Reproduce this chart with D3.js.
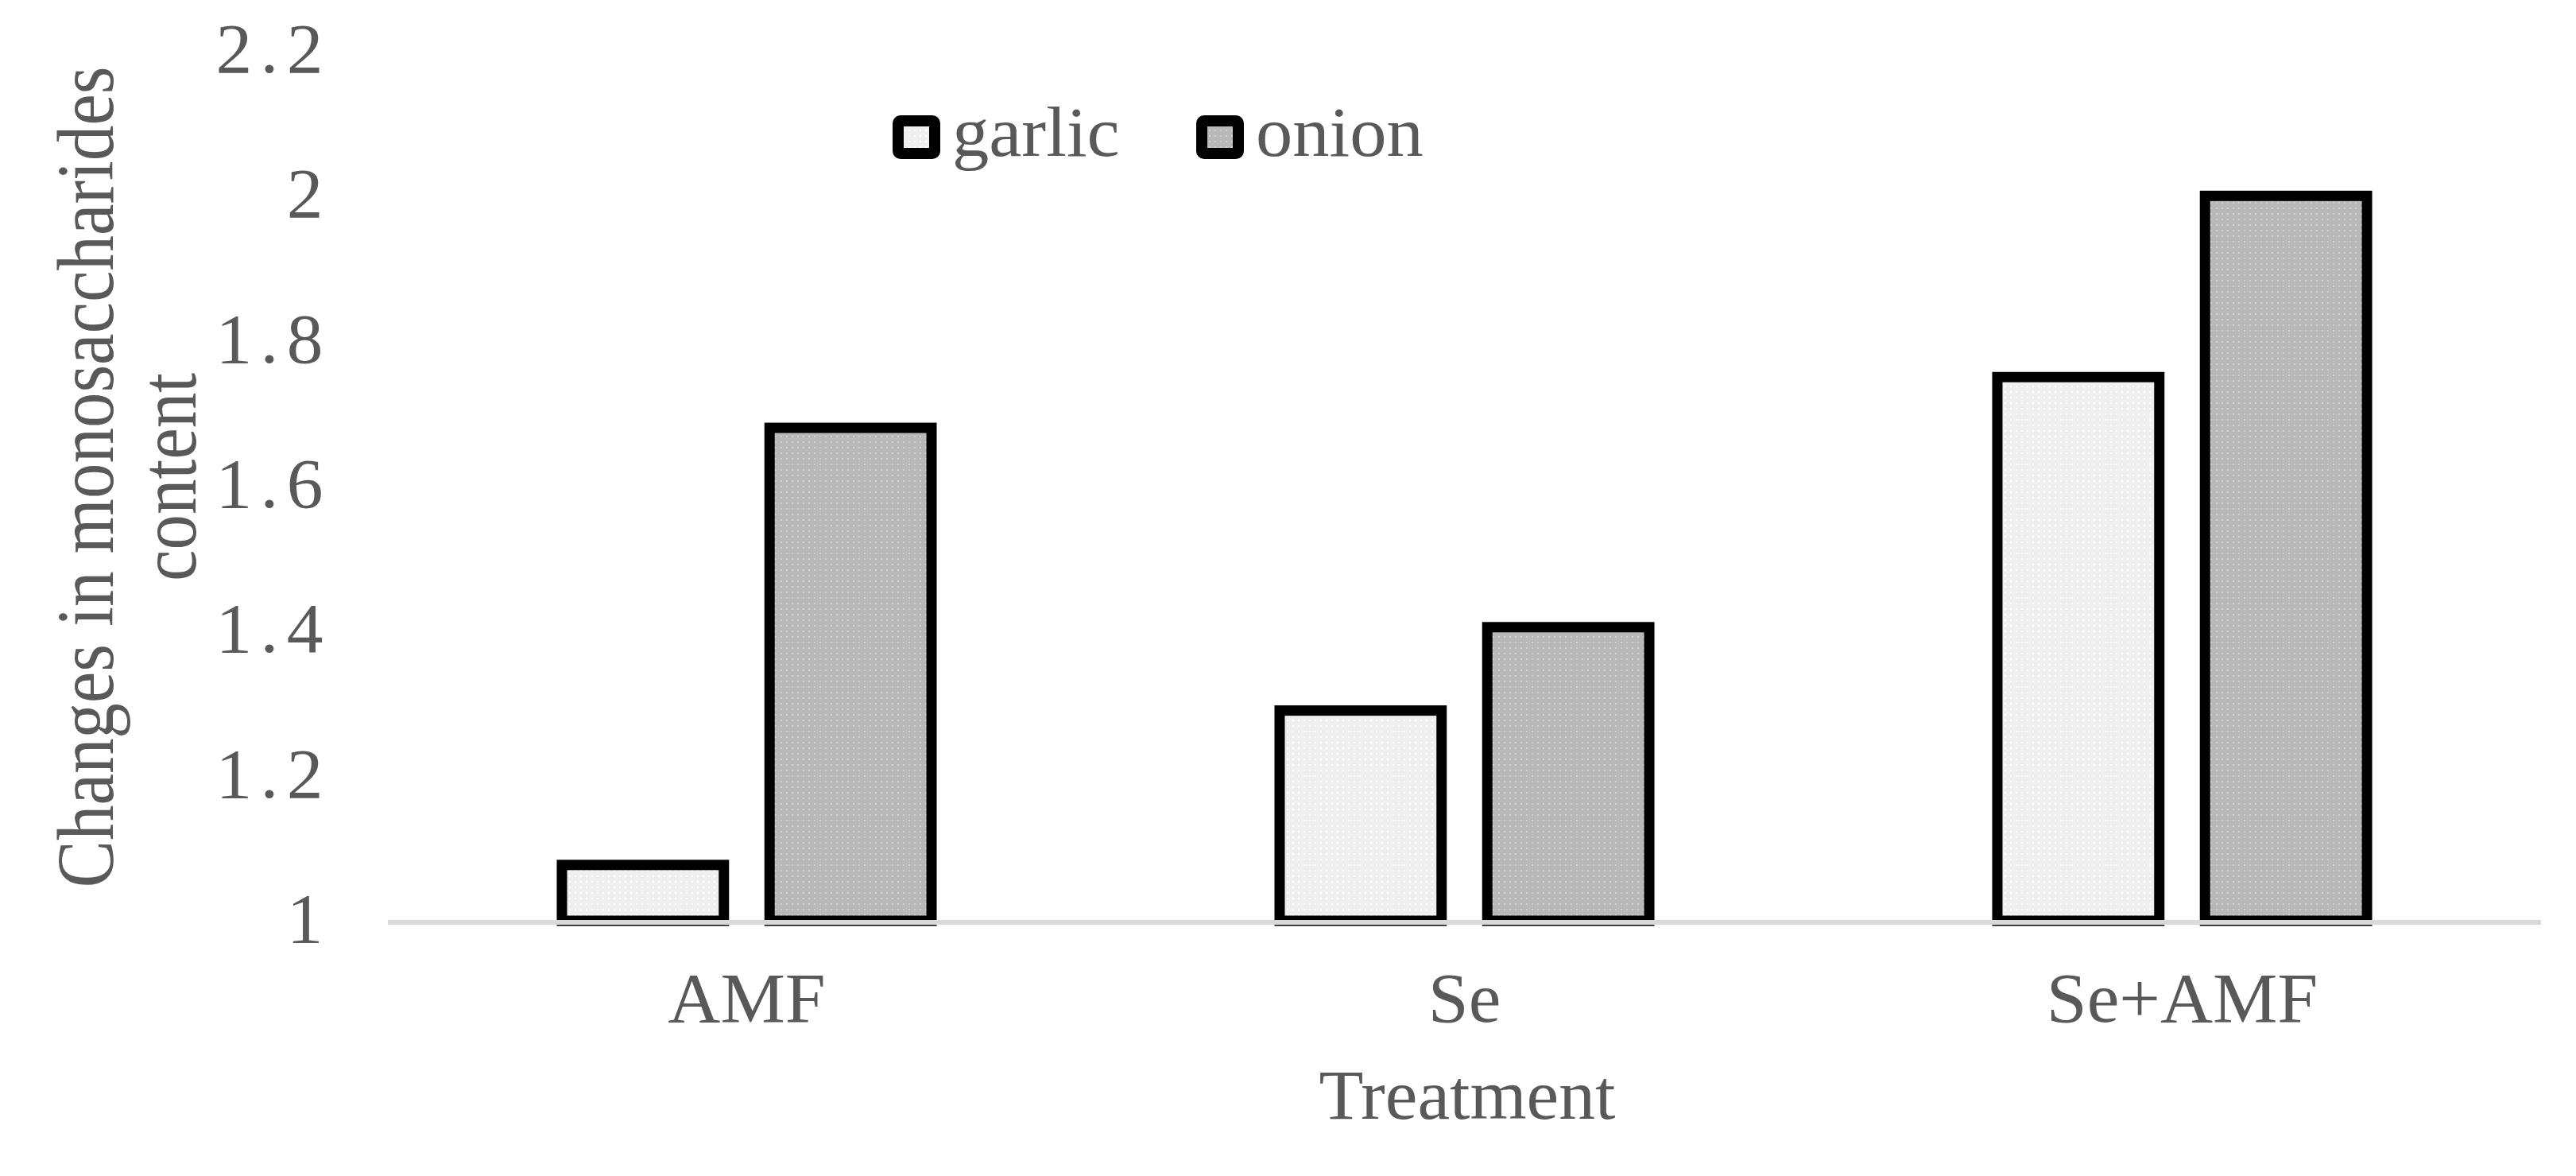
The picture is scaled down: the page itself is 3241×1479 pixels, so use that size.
<!DOCTYPE html>
<html>
<head>
<meta charset="utf-8">
<script src="https://cdn.jsdelivr.net/npm/d3@7"></script>
<style>
  html, body { margin: 0; padding: 0; background: #ffffff; }
  svg { display: block; }
  text { font-family: "Liberation Serif", "Times New Roman", serif; fill: #595959; }
</style>
</head>
<body>
<svg id="chart" width="3241" height="1479"></svg>
<script>
// ---- data ----
const categories = ["AMF", "Se", "Se+AMF"];
const seriesNames = ["garlic", "onion"];
const garlicValues = [1.077, 1.29, 1.75];
const onionValues = [1.68, 1.405, 2.00];
const yTicks = [1, 1.2, 1.4, 1.6, 1.8, 2, 2.2];
const xTitle = "Treatment";
const yTitleLines = ["Changes in monosaccharides", "content"];

const rows = categories.map((c, i) => ({ cat: c, garlic: garlicValues[i], onion: onionValues[i] }));

// ---- layout ----
const plotLeft = 488, plotRight = 3197;
const plotTop = 64, plotBottom = 1158;
const fontSize = 88;
const stretch = 1.04;

const svg = d3.select("#chart");

// patterns
const defs = svg.append("defs");
function dotPattern(id, base, dot) {
  const p = defs.append("pattern").attr("id", id).attr("patternUnits", "userSpaceOnUse")
    .attr("width", 7).attr("height", 7);
  p.append("rect").attr("width", 7).attr("height", 7).attr("fill", base);
  p.append("rect").attr("x", 2).attr("y", 2).attr("width", 2).attr("height", 2).attr("fill", dot);
}
dotPattern("pat-garlic", "#efefef", "#ffffff");
dotPattern("pat-onion", "#b8b8b8", "#d2d2d2");
const fills = { garlic: "url(#pat-garlic)", onion: "url(#pat-onion)" };

// scales
const y = d3.scaleLinear().domain([1, 2.2]).range([plotBottom, plotTop]);
const x0 = d3.scaleBand().domain(categories).range([plotLeft, plotRight])
  .paddingInner(0.485).paddingOuter(0.2425);
const x1 = d3.scaleBand().domain(seriesNames).range([0, x0.bandwidth()]).paddingInner(0.22);

// y axis labels
const yAxis = d3.axisLeft(y).tickValues(yTicks).tickFormat(d3.format("~g")).tickSize(0).tickPadding(0);
const yg = svg.append("g").attr("transform", "translate(417,0)").call(yAxis);
yg.select(".domain").remove();
yg.selectAll("text")
  .attr("font-family", "Liberation Serif").attr("font-size", fontSize).attr("fill", "#595959")
  .attr("x", 0).attr("dy", "0.3em")
  .attr("letter-spacing", "10px")
  .attr("transform", `scale(${stretch},1)`);

// bars
const groups = svg.append("g").selectAll("g").data(rows).join("g")
  .attr("transform", d => `translate(${x0(d.cat)},0)`);
groups.selectAll("rect").data(d => seriesNames.map(s => ({ s, v: d[s] }))).join("rect")
  .attr("x", d => x1(d.s))
  .attr("y", d => y(d.v))
  .attr("width", x1.bandwidth())
  .attr("height", d => y(1) - y(d.v))
  .attr("fill", d => fills[d.s])
  .attr("stroke", "#000000")
  .attr("stroke-width", 13);

// baseline axis
const xAxis = d3.axisBottom(x0).tickSize(0).tickPadding(0);
const xg = svg.append("g").attr("transform", `translate(0,${plotBottom})`).call(xAxis);
xg.select(".domain").attr("stroke", "#d9d9d9").attr("stroke-width", 6)
  .attr("d", `M${plotLeft},2H${plotRight}`);
xg.selectAll("text")
  .attr("font-family", "Liberation Serif").attr("font-size", fontSize).attr("fill", "#595959")
  .attr("y", 127).attr("dy", 0)
  .attr("transform", `scale(${stretch},1)`);

// x title
svg.append("text")
  .attr("transform", `translate(1846,1407) scale(${stretch},1)`)
  .attr("text-anchor", "middle").attr("font-size", fontSize)
  .text(xTitle);

// y title
const yTitle = svg.append("g").attr("transform", `translate(0,600)`);
yTitleLines.forEach((line, i) => {
  yTitle.append("text")
    .attr("transform", `translate(${142 + i * 104},0) scale(1.15,1) rotate(-90)`)
    .attr("text-anchor", "middle").attr("font-size", 89)
    .text(line);
});

// legend
const legendItems = [
  { s: "garlic", x: 1123 },
  { s: "onion", x: 1505 }
];
const lg = svg.append("g");
legendItems.forEach(it => {
  lg.append("rect")
    .attr("x", it.x + 7).attr("y", 152).attr("width", 46).attr("height", 41)
    .attr("rx", 3)
    .attr("fill", fills[it.s]).attr("stroke", "#000").attr("stroke-width", 14);
  lg.append("text")
    .attr("transform", `translate(${it.x + 75},196) scale(${stretch},1)`)
    .attr("font-size", 89)
    .text(it.s);
});
</script>
</body>
</html>
